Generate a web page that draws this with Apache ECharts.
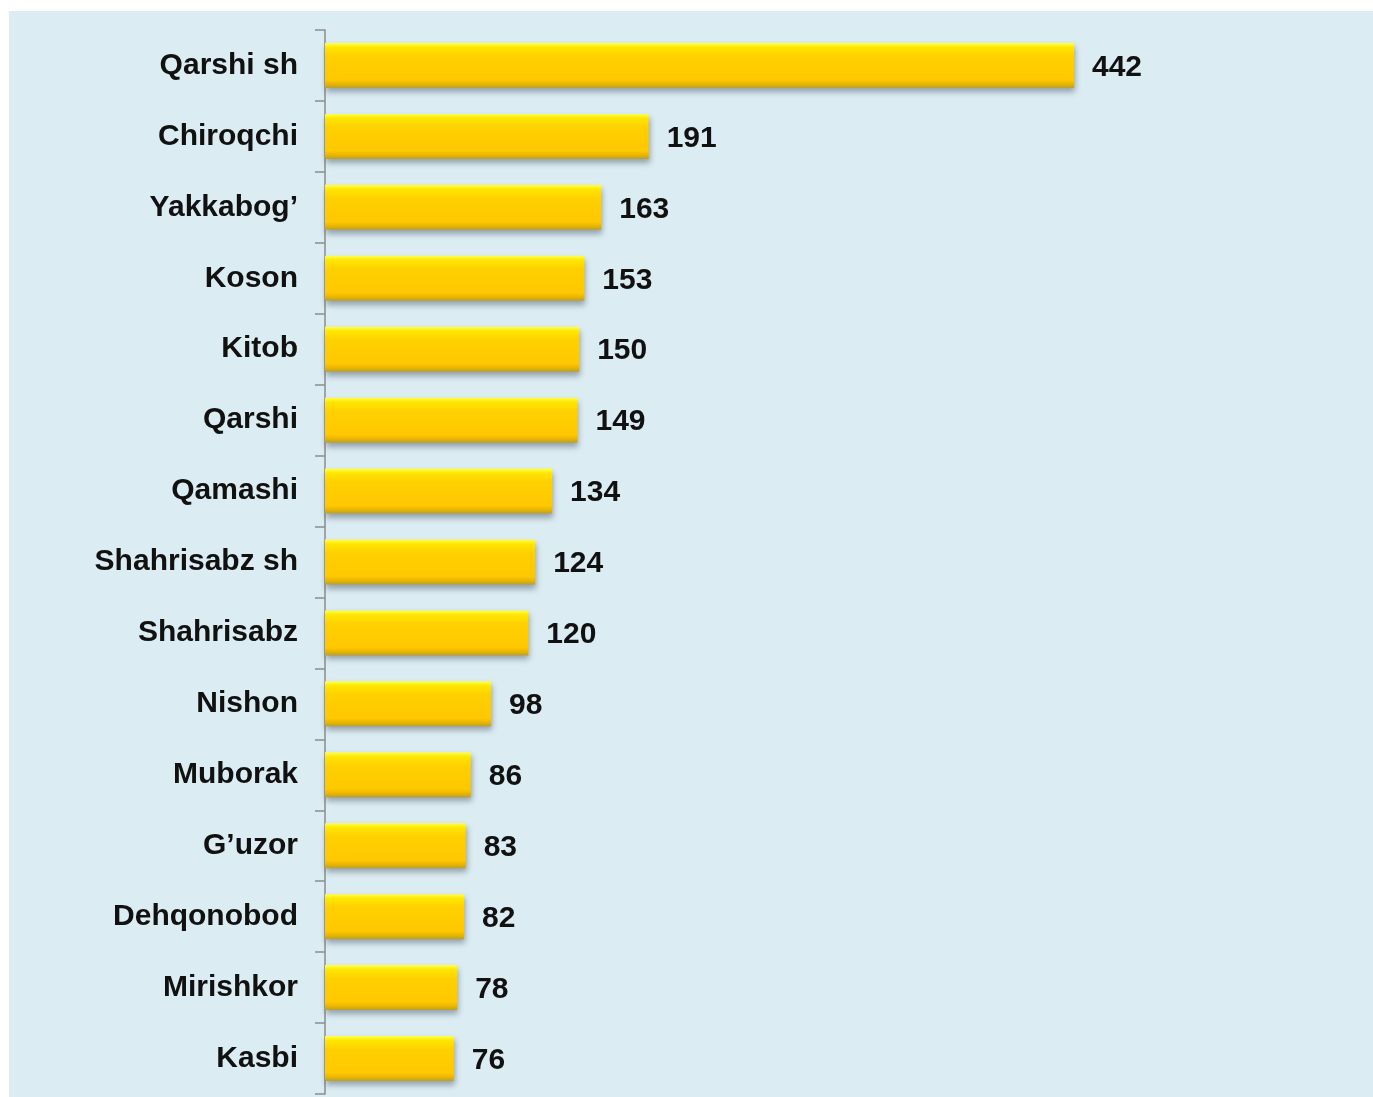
<!DOCTYPE html>
<html>
<head>
<meta charset="utf-8">
<script src="https://cdn.jsdelivr.net/npm/echarts@6/dist/echarts.min.js"></script>
<style>
  html, body { margin: 0; padding: 0; background: #ffffff; }
  #chart { width: 1373px; height: 1097px; }
</style>
</head>
<body>
<div id="chart"></div>
<script>
// tumanlar / shaharlar
const categories = [
  "Qarshi sh", "Chiroqchi", "Yakkabog\u2019", "Koson", "Kitob", "Qarshi",
  "Qamashi", "Shahrisabz sh", "Shahrisabz", "Nishon", "Muborak",
  "G\u2019uzor", "Dehqonobod", "Mirishkor", "Kasbi"
];
const values = [442, 191, 163, 153, 150, 149, 134, 124, 120, 98, 86, 83, 82, 78, 76];

const chart = echarts.init(document.getElementById("chart"));

const option = {
  backgroundColor: "#ffffff",
  animation: false,
  graphic: [
    {
      type: "rect",
      z: -10,
      shape: { x: 9, y: 11, width: 1364, height: 1086 },
      style: { fill: "#dbecf3" }
    }
  ],
  grid: { left: 325, right: 299, top: 30, bottom: 3 },
  xAxis: {
    type: "value",
    min: 0,
    max: 442,
    show: false
  },
  yAxis: {
    type: "category",
    inverse: true,
    data: categories,
    axisLine: { show: true, lineStyle: { color: "#8c8c8c", width: 1.5 } },
    axisTick: { show: true, length: 10, lineStyle: { color: "#8c8c8c", width: 1.5 } },
    axisLabel: {
      margin: 27,
      color: "#111111",
      fontFamily: "Liberation Sans, Arial, sans-serif",
      fontWeight: "bold",
      fontSize: 30
    }
  },
  series: [
    {
      type: "bar",
      data: values,
      barWidth: 45,
      itemStyle: {
        color: new echarts.graphic.LinearGradient(0, 0, 0, 1, [
          { offset: 0, color: "#ffff50" },
          { offset: 0.1, color: "#ffe600" },
          { offset: 0.3, color: "#ffd000" },
          { offset: 0.82, color: "#ffc800" },
          { offset: 0.92, color: "#e8b400" },
          { offset: 1, color: "#b8a030" }
        ]),
        shadowColor: "rgba(60, 70, 80, 0.45)",
        shadowBlur: 6,
        shadowOffsetY: 4,
        shadowOffsetX: 1
      },
      label: {
        show: true,
        position: "right",
        distance: 18,
        offset: [0, 2],
        color: "#111111",
        fontFamily: "Liberation Sans, Arial, sans-serif",
        fontWeight: "bold",
        fontSize: 30
      }
    }
  ]
};

chart.setOption(option);
</script>
</body>
</html>
